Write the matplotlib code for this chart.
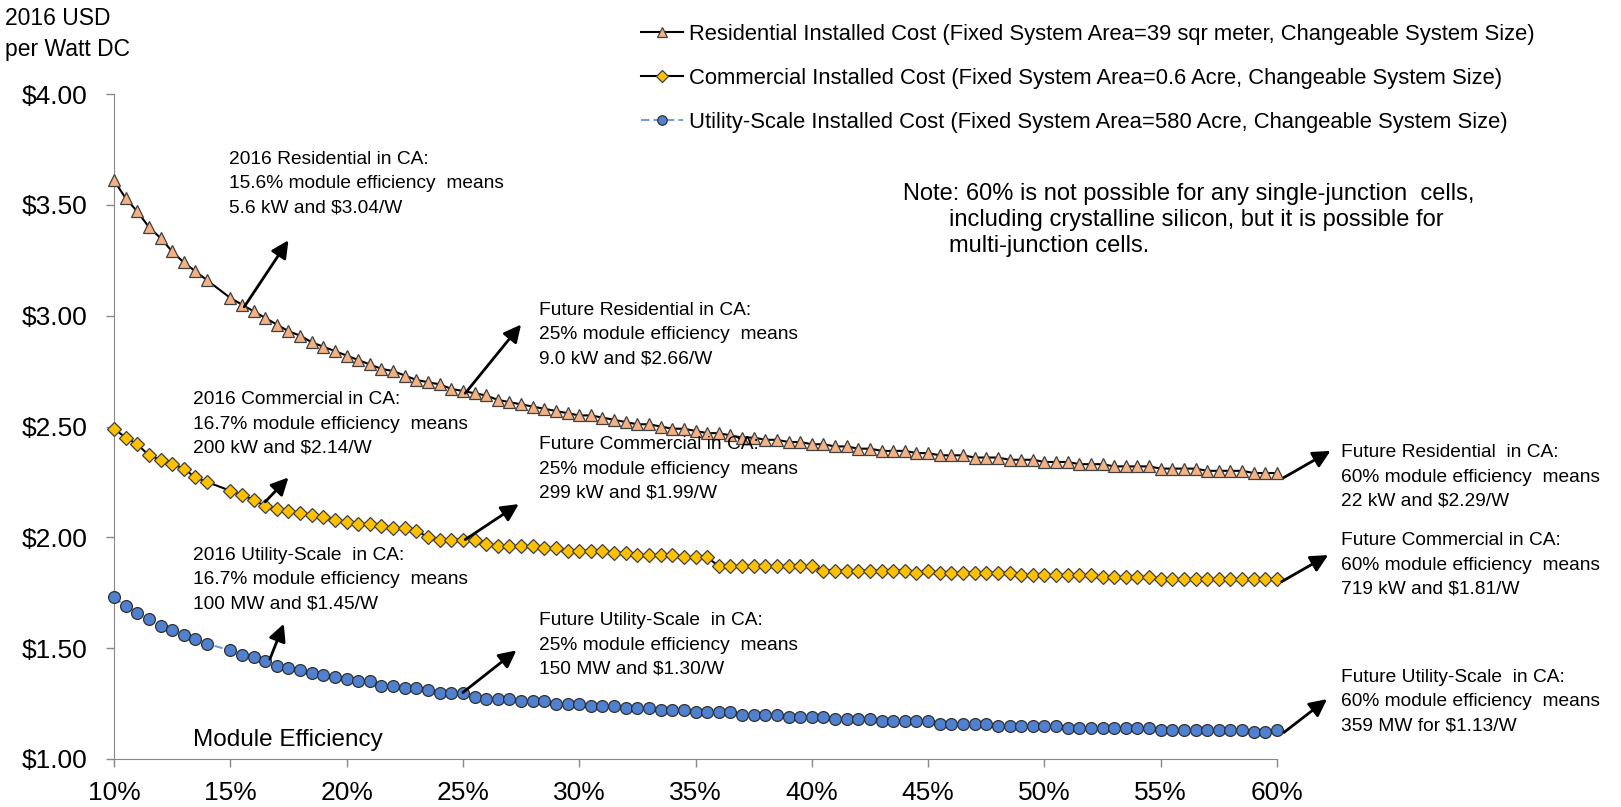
import numpy as np
import matplotlib
matplotlib.use("Agg")
import matplotlib.pyplot as plt
from matplotlib import font_manager
from matplotlib.font_manager import FontProperties

# module efficiency in %, no point at 14.5%
eff = np.concatenate([np.arange(10, 14.5, 0.5), np.arange(15, 60.5, 0.5)])

residential = [3.61, 3.53, 3.47, 3.40, 3.35, 3.29, 3.24, 3.20, 3.16,
               3.08, 3.05, 3.02, 2.99, 2.96, 2.93, 2.91, 2.88, 2.86, 2.84,
               2.82, 2.80, 2.78, 2.76, 2.75, 2.73, 2.71, 2.70, 2.69, 2.67,
               2.66, 2.65, 2.64, 2.62, 2.61, 2.60, 2.59, 2.58, 2.57, 2.56,
               2.55, 2.55, 2.54, 2.53, 2.52, 2.51, 2.51, 2.50, 2.49, 2.49,
               2.48, 2.47, 2.47, 2.46, 2.45, 2.45, 2.44, 2.44, 2.43, 2.43,
               2.42, 2.42, 2.41, 2.41, 2.40, 2.40, 2.39, 2.39, 2.39, 2.38,
               2.38, 2.37, 2.37, 2.37, 2.36, 2.36, 2.36, 2.35, 2.35, 2.35,
               2.34, 2.34, 2.34, 2.33, 2.33, 2.33, 2.32, 2.32, 2.32, 2.32,
               2.31, 2.31, 2.31, 2.31, 2.30, 2.30, 2.30, 2.30, 2.29, 2.29,
               2.29]

commercial = [2.49, 2.45, 2.42, 2.37, 2.35, 2.33, 2.31, 2.27, 2.25,
              2.21, 2.19, 2.17, 2.14, 2.13, 2.12, 2.11, 2.10, 2.09, 2.08,
              2.07, 2.06, 2.06, 2.05, 2.04, 2.04, 2.03, 2.00, 1.99, 1.99,
              1.99, 1.99, 1.97, 1.96, 1.96, 1.96, 1.96, 1.95, 1.95, 1.94,
              1.94, 1.94, 1.94, 1.93, 1.93, 1.92, 1.92, 1.92, 1.92, 1.91,
              1.91, 1.91, 1.87, 1.87, 1.87, 1.87, 1.87, 1.87, 1.87, 1.87,
              1.87, 1.85, 1.85, 1.85, 1.85, 1.85, 1.85, 1.85, 1.85, 1.84,
              1.85, 1.84, 1.84, 1.84, 1.84, 1.84, 1.84, 1.84, 1.83, 1.83,
              1.83, 1.83, 1.83, 1.83, 1.83, 1.82, 1.82, 1.82, 1.82, 1.82,
              1.81, 1.81, 1.81, 1.81, 1.81, 1.81, 1.81, 1.81, 1.81, 1.81,
              1.81]

utility = [1.73, 1.69, 1.66, 1.63, 1.60, 1.58, 1.56, 1.54, 1.52,
           1.49, 1.47, 1.46, 1.44, 1.42, 1.41, 1.40, 1.39, 1.38, 1.37,
           1.36, 1.35, 1.35, 1.33, 1.33, 1.32, 1.32, 1.31, 1.30, 1.30,
           1.30, 1.28, 1.27, 1.27, 1.27, 1.26, 1.26, 1.26, 1.25, 1.25,
           1.25, 1.24, 1.24, 1.24, 1.23, 1.23, 1.23, 1.22, 1.22, 1.22,
           1.21, 1.21, 1.21, 1.21, 1.20, 1.20, 1.20, 1.20, 1.19, 1.19,
           1.19, 1.19, 1.18, 1.18, 1.18, 1.18, 1.17, 1.17, 1.17, 1.17,
           1.17, 1.16, 1.16, 1.16, 1.16, 1.16, 1.15, 1.15, 1.15, 1.15,
           1.15, 1.15, 1.14, 1.14, 1.14, 1.14, 1.14, 1.14, 1.14, 1.14,
           1.13, 1.13, 1.13, 1.13, 1.13, 1.13, 1.13, 1.13, 1.12, 1.12,
           1.13]

legend_labels = [
    "Residential Installed Cost (Fixed System Area=39 sqr meter, Changeable System Size)",
    "Commercial Installed Cost (Fixed System Area=0.6 Acre, Changeable System Size)",
    "Utility-Scale Installed Cost (Fixed System Area=580 Acre, Changeable System Size)",
]

# callouts: text, text anchor (eff, cost), arrow tail, arrow head
notes = [
    "2016 Residential in CA:\n15.6% module efficiency  means\n5.6 kW and $3.04/W",
    "Future Residential in CA:\n25% module efficiency  means\n9.0 kW and $2.66/W",
    "2016 Commercial in CA:\n16.7% module efficiency  means\n200 kW and $2.14/W",
    "Future Commercial in CA:\n25% module efficiency  means\n299 kW and $1.99/W",
    "2016 Utility-Scale  in CA:\n16.7% module efficiency  means\n100 MW and $1.45/W",
    "Future Utility-Scale  in CA:\n25% module efficiency  means\n150 MW and $1.30/W",
    "Future Residential  in CA:\n60% module efficiency  means\n22 kW and $2.29/W",
    "Future Commercial in CA:\n60% module efficiency  means\n719 kW and $1.81/W",
    "Future Utility-Scale  in CA:\n60% module efficiency  means\n359 MW for $1.13/W",
]
note_pos = [(14.94, 3.594), (28.27, 2.913), (13.40, 2.511), (28.27, 2.308),
            (13.40, 1.808), (28.27, 1.514), (62.75, 2.272), (62.75, 1.875),
            (62.75, 1.259)]
arrow_tail = [(15.6, 3.04), (25.1, 2.65), (16.5, 2.16), (25.1, 1.99),
              (16.7, 1.45), (25.0, 1.30), (60.3, 2.27), (60.2, 1.80),
              (60.3, 1.12)]
arrow_head = [(17.5, 3.34), (27.5, 2.96), (17.5, 2.27), (27.4, 2.15),
              (17.3, 1.61), (27.3, 1.49), (62.3, 2.39), (62.2, 1.92),
              (62.15, 1.27)]

try:
    font_manager.findfont(FontProperties(family="Liberation Sans Narrow"),
                          fallback_to_default=False)
    note_font = dict(family=["Liberation Sans Narrow", "Liberation Sans"], size=16)
except ValueError:
    note_font = dict(family=["Liberation Sans"], size=13.8)

plt.rcParams["font.family"] = ["Liberation Sans", "DejaVu Sans"]

fig = plt.figure(figsize=(16.21, 8.07), dpi=100)
ax = fig.add_axes([114 / 1621, 1 - 759 / 807, (1277 - 114) / 1621, (759 - 94) / 807])

ax.plot(eff, residential, color="black", lw=1.5, marker="^", ms=8.5,
        mfc="#F4B183", mec="#404040", mew=0.9, clip_on=False, zorder=3,
        label=legend_labels[0])
ax.plot(eff, commercial, color="black", lw=1.5, marker="D", ms=7.3,
        mfc="#FFC000", mec="#404040", mew=0.9, clip_on=False, zorder=3,
        label=legend_labels[1])
ax.plot(eff, utility, color="#6FA0DC", lw=1.5, ls=(0, (4, 2)), marker="o", ms=8.5,
        mfc="#4F81D0", mec="#303030", mew=0.9, clip_on=False, zorder=3,
        label=legend_labels[2])

ax.set_xlim(10, 60)
ax.set_ylim(1, 4)
ax.set_xticks(np.arange(10, 61, 5))
ax.set_xticklabels([f"{v}%" for v in range(10, 61, 5)])
ax.set_yticks(np.arange(1, 4.01, 0.5))
ax.set_yticklabels([f"${v:.2f}" for v in np.arange(1, 4.01, 0.5)])
for s in ["top", "right"]:
    ax.spines[s].set_visible(False)
for s in ["left", "bottom"]:
    ax.spines[s].set_color("#888888")
ax.tick_params(axis="both", length=6, width=1, color="#888888", labelsize=19)
ax.tick_params(axis="y", pad=13)
ax.tick_params(axis="x", pad=10)

for txt, pos, tail, head in zip(notes, note_pos, arrow_tail, arrow_head):
    ax.text(pos[0], pos[1], txt, va="center", ha="left", linespacing=1.55,
            **note_font)
    ax.annotate("", xy=head, xytext=tail, annotation_clip=False,
                arrowprops=dict(arrowstyle="-|>", color="black", lw=2,
                                mutation_scale=26, shrinkA=0, shrinkB=0))

ax.text(43.92, 3.549, "Note: 60% is not possible for any single-junction  cells,",
        fontsize=17, va="center")
ax.text(45.90, 3.432, "including crystalline silicon, but it is possible for",
        fontsize=17, va="center")
ax.text(45.90, 3.315, "multi-junction cells.", fontsize=17, va="center")
ax.text(13.40, 1.086, "Module Efficiency", fontsize=17.5, va="center")

fig.text(5 / 1621, 1 - 34 / 807, "2016 USD\nper Watt DC", fontsize=16.5,
         va="center", ha="left", linespacing=1.4)

fig.legend(loc="upper left", bbox_to_anchor=(630 / 1621, 1 - 13 / 807),
           frameon=False, fontsize=15.8, borderpad=0, handlelength=1.9,
           handletextpad=0.3, labelspacing=1.04, markerscale=0.8)

fig.savefig("out.png", dpi=100)
